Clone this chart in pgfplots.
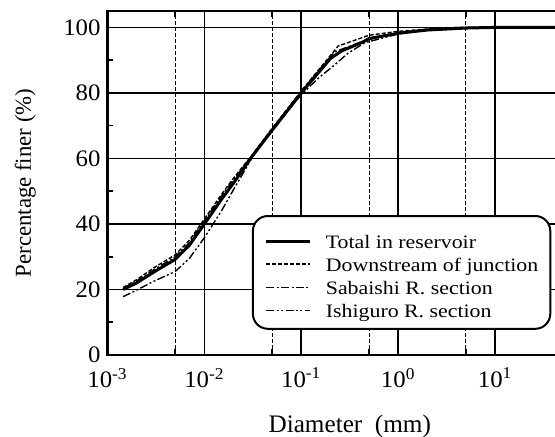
\documentclass[border=0pt]{standalone}
\usepackage{fontspec}
\setmainfont{Liberation Serif}
\newfontfamily\tickfamily[FakeStretch=1.05]{Liberation Serif}
\newfontfamily\legfamily[FakeStretch=1.15]{Liberation Serif}
\usepackage{pgfplots}
\pgfplotsset{compat=1.18}

\newcommand{\tickfont}{\tickfamily\fontsize{11.8}{14}\selectfont}
\newcommand{\legfont}{\legfamily\fontsize{9.5}{11.5}\selectfont}

\tikzset{
  total/.style={black, line width=1.5pt, sharp corners},
  downstream/.style={black, line width=0.7pt, dash pattern=on 2pt off 1pt, sharp corners},
  sabaishi/.style={black, line width=0.7pt, dash pattern=on 4pt off 1.2pt on 1pt off 1.2pt, sharp corners},
  ishiguro/.style={black, line width=0.7pt, dash pattern=on 4pt off 1.2pt on 1pt off 1.2pt on 1pt off 1.2pt, sharp corners},
}

\begin{document}
\begin{tikzpicture}
% the visible window: the axis runs on to 10^2 beyond the right edge
\path[use as bounding box, clip] (-53.75pt,-40.5pt) rectangle (223.75pt,177.5pt);
\begin{axis}[
  scale only axis, width=242.25pt, height=172pt,
  xmode=log, log basis x=10,
  xmin=1e-3, xmax=1e2, ymin=0, ymax=105,
  xtick={1e-3,1e-2,1e-1,1,10,100},
  xticklabels={10\textsuperscript{-3},10\textsuperscript{-2},10\textsuperscript{-1},10\textsuperscript{0},10\textsuperscript{1},{}},
  minor xtick={5e-3,5e-2,5e-1,5,50},
  ytick={0,20,40,60,80,100},
  minor ytick={10,30,50,70,90},
  xmajorgrids, xminorgrids, ymajorgrids,
  major grid style={black, line width=0.8pt},
  minor grid style={black, line width=0.5pt, dash pattern=on 2pt off 1pt},
  axis line style={black, line width=1.3pt},
  tick align=inside, major tick length=3pt, minor tick length=3pt,
  tick style={black, line width=0.8pt},
  ytick pos=left,
  tick label style={font=\tickfont},
  xticklabel style={yshift=-3pt},
  /pgf/number format/assume math mode=true,
  xlabel={Diameter\hspace{0.5em}(mm)},
  ylabel={Percentage finer (\%)},
  xlabel style={font=\fontsize{12.6}{15}\selectfont, at={(axis description cs:0.5,-0.2238)}, anchor=base},
  ylabel style={font=\fontsize{11.4}{14}\selectfont, at={(axis description cs:-0.158,0.5)}, anchor=base},
  legend image code/.code={\draw[#1] (0pt,3.6pt) -- (22pt,3.6pt);},
  legend style={at={(axis description cs:0.298,0.407)}, anchor=north west,
    draw=black, line width=1pt, rounded corners=7.5pt, fill=white,
    font=\legfont, inner xsep=6pt, inner ysep=5.1pt, column sep=7pt,
    nodes={inner sep=0pt, text height=11pt, text depth=0.55pt, anchor=base west}},
]
% legend entries, in the order they are listed
\addlegendimage{total}
\addlegendentry{Total in reservoir}
\addlegendimage{downstream}
\addlegendentry{Downstream of junction}
\addlegendimage{sabaishi}
\addlegendentry{Sabaishi R. section}
\addlegendimage{ishiguro}
\addlegendentry{Ishiguro R. section}

% Downstream of junction
\addplot[downstream, forget plot] coordinates {
  (1.45e-3,20.6) (2e-3,23.0) (3e-3,26.6) (5e-3,30.6) (7e-3,35.0)
  (1e-2,41.5) (1.5e-2,49.0) (2e-2,54.0) (3.1e-2,61.0) (5e-2,69.2)
  (0.1,80.6) (0.24,94.3) (0.5,97.6) (1,98.8) (2,99.5) (4,100) (100,100)};
% Sabaishi R. section
\addplot[sabaishi, forget plot] coordinates {
  (1.45e-3,20.3) (2e-3,22.6) (3e-3,26.0) (5e-3,30.0) (7e-3,34.3)
  (1e-2,41.0) (1.5e-2,48.5) (2e-2,53.5) (3.1e-2,60.8) (5e-2,69.0)
  (0.1,80.5) (0.22,92.5) (0.45,96.0) (1,98.4) (2,99.3) (5,99.9) (10,100) (100,100)};
% Ishiguro R. section
\addplot[ishiguro, forget plot] coordinates {
  (1.45e-3,17.8) (2e-3,19.8) (3e-3,22.5) (5e-3,25.5) (7e-3,29.5)
  (1e-2,35.8) (1.5e-2,44.0) (2e-2,50.5) (3.1e-2,60.2) (5e-2,69.0)
  (0.1,79.5) (0.15,84.5) (0.23,89.0) (0.3,92.0) (0.45,95.3)
  (1,98.0) (2,99.2) (5,99.8) (10,100) (100,100)};
% Total in reservoir, drawn last so it lies on top
\addplot[total, forget plot] coordinates {
  (1.45e-3,20.0) (2e-3,22.0) (3e-3,25.3) (5e-3,29.2) (7e-3,33.5)
  (1e-2,40.0) (1.5e-2,47.5) (2e-2,52.5) (3.08e-2,60.5) (5e-2,68.6)
  (0.1,80.0) (0.2,90.5) (0.26,92.8) (0.43,95.5) (0.5,96.6)
  (1,98.2) (2,99.2) (5,99.8) (10,100) (100,100)};
\end{axis}
\end{tikzpicture}
\end{document}
